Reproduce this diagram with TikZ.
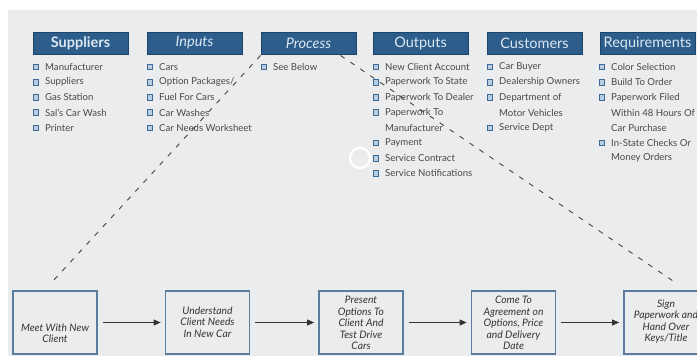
\documentclass[tikz,border=0pt]{standalone}
\usepackage{fontspec}
\setmainfont{Lato}
\usetikzlibrary{arrows.meta,calc}
\definecolor{bgc}{HTML}{EBECEE}
\definecolor{hdrfill}{HTML}{2D5E8B}
\definecolor{hdrline}{HTML}{1D4469}
\definecolor{hdrtext}{HTML}{DCE7F2}
\definecolor{itemtext}{HTML}{484848}
\definecolor{bulfill}{HTML}{B9CDE1}
\definecolor{bulline}{HTML}{3E6A96}
\definecolor{boxline}{HTML}{5B7C9C}
\definecolor{boxtext}{HTML}{333333}
\definecolor{dashc}{HTML}{444444}
\newcommand\listitem[4]{%
  \node[bul] (#1b) at (#2+3,67+15.2*#3) {};
  \node[itm] (#1) at (#2+12,67+15.2*#3) {#4};}
\newcommand\listcont[4]{%
  \node[itm] (#1) at (#2+12,67+15.2*#3) {#4};}
\begin{document}
\begin{tikzpicture}[x=1pt,y=-1pt,
  hdr/.style={draw=hdrline,line width=0.8pt,fill=hdrfill,text=hdrtext,minimum width=95pt,minimum height=22pt,inner sep=0pt,font=\fontsize{14.5}{16}\selectfont},
  bul/.style={draw=bulline,fill=bulfill,line width=0.9pt,minimum size=5.5pt,inner sep=0pt},
  itm/.style={anchor=west,inner sep=0pt,text=itemtext,font=\fontsize{9.6}{11}\selectfont},
  bx/.style={draw=boxline,line width=1.8pt,minimum width=84pt,minimum height=63pt,inner sep=0pt},
  bxt/.style={align=center,text=boxtext,inner sep=0pt,font=\itshape\fontsize{10.3}{11.4}\selectfont},
  arr/.style={draw=black!80,line width=0.8pt,-{Triangle[length=7pt,width=6pt]},shorten <=5pt,shorten >=4pt},
  dsh/.style={draw=dashc,line width=0.9pt,dash pattern=on 5pt off 7pt}]
\useasboundingbox (0,0) rectangle (697,356);
\fill[white] (0,0) rectangle (697,356);
\fill[bgc] (8,10) rectangle (697,356);
% headers
\node[hdr] (h1) at (80.5,43) {\textbf{Suppliers}};
\node[hdr] (h2) at (194.5,43) {\textit{Inputs}};
\node[hdr] (h3) at (308.5,43) {\textit{Process}};
\node[hdr] (h4) at (420.5,43) {Outputs};
\node[hdr] (h5) at (534.5,43) {Customers};
\node[hdr] (h6) at (647.5,43) {Requirements};
% suppliers
\listitem{s1}{33}{0}{Manufacturer}
\listitem{s2}{33}{1}{Suppliers}
\listitem{s3}{33}{2}{Gas Station}
\listitem{s4}{33}{3}{Sal's Car Wash}
\listitem{s5}{33}{4}{Printer}
% inputs
\listitem{i1}{147}{0}{Cars}
\listitem{i2}{147}{1}{Option Packages/}
\listitem{i3}{147}{2}{Fuel For Cars}
\listitem{i4}{147}{3}{Car Washes}
\listitem{i5}{147}{4}{Car Needs Worksheet}
% process
\listitem{p1}{261}{0}{See Below}
% outputs
\listitem{o1}{373}{0}{New Client Account}
\listitem{o2}{373}{1}{Paperwork To State}
\listitem{o3}{373}{2}{Paperwork To Dealer}
\listitem{o4}{373}{3}{Paperwork To}
\listcont{o4c}{373}{4}{Manufacturer}
\listitem{o5}{373}{5}{Payment}
\listitem{o6}{373}{6}{Service Contract}
\listitem{o7}{373}{7}{Service Notifications}
% customers
\listitem{c1}{487}{0}{Car Buyer}
\listitem{c2}{487}{1}{Dealership Owners}
\listitem{c3}{487}{2}{Department of}
\listcont{c3c}{487}{3}{Motor Vehicles}
\listitem{c4}{487}{4}{Service Dept}
% requirements
\listitem{r1}{599}{0}{Color Selection}
\listitem{r2}{599}{1}{Build To Order}
\listitem{r3}{599}{2}{Paperwork Filed}
\listcont{r3c}{599}{3}{Within 48 Hours Of}
\listcont{r3d}{599}{4}{Car Purchase}
\listitem{r4}{599}{5}{In-State Checks Or}
\listcont{r4c}{599}{6}{Money Orders}
% process boxes
\node[bx] (b1) at (55,322.5) {};
\node[bxt] (b1t) at (55,333.5) {Meet With New\\Client};
\node[bx] (b2) at (207.5,322.5) {};
\node[bxt] (b2t) at (207.5,322) {Understand\\Client Needs\\In New Car};
\node[bx] (b3) at (361,322.5) {};
\node[bxt] (b3t) at (361,323) {Present\\Options To\\Client And\\Test Drive\\Cars};
\node[bx] (b4) at (513.5,322.5) {};
\node[bxt] (b4t) at (513.5,323) {Come To\\Agreement on\\Options, Price\\and Delivery\\Date};
\node[bx] (b5) at (666,322.5) {};
\node[bxt] (b5t) at (666,321.5) {Sign\\Paperwork and\\Hand Over\\Keys/Title};
\draw[arr] (b1) -- (b2);
\draw[arr] (b2) -- (b3);
\draw[arr] (b3) -- (b4);
\draw[arr] (b4) -- (b5);
% dashed guides
\coordinate (pls) at ($(h3.south west)+(0,1)$);
\coordinate (ple) at (53,281);
\coordinate (prs) at ($(h3.south east)+(-16,1)$);
\coordinate (pre) at (676,283);
\draw[dsh] (pls) -- (ple);
\draw[dsh] (prs) -- (pre);
% loading ring
\draw[white,line width=2.2pt] (360,158) circle[radius=10pt];
\end{tikzpicture}
\end{document}
